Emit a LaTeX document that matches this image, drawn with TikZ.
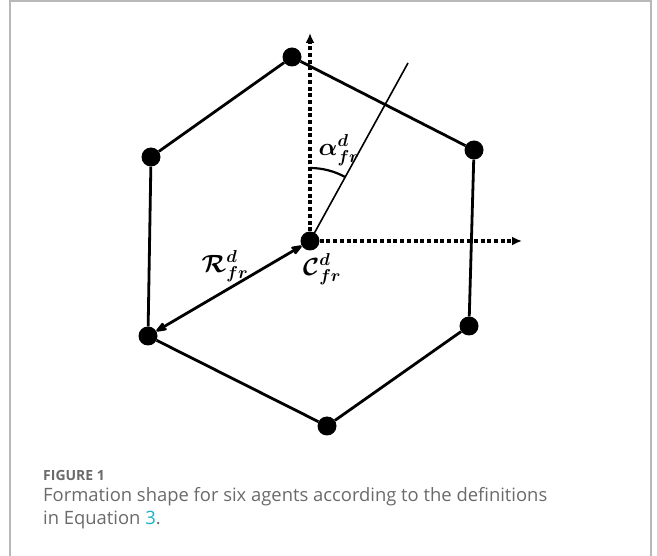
\documentclass[tikz,border=0pt]{standalone}
\usepackage{amsmath,amssymb,bm}
\usepackage{fontspec}
\newfontfamily\capfont{Open Sans}
\usetikzlibrary{arrows.meta}
\definecolor{capgray}{HTML}{6A6A6A}
\definecolor{eqcyan}{HTML}{1BB0C6}

\begin{document}
\begin{tikzpicture}[
	x=1pt, y=-1pt,
	>={Stealth[round]},
	agent/.style={circle, fill=black, inner sep=0pt, minimum size=19pt},
	side/.style={line width=2.8pt, black},
	axis/.style={-{Latex[length=10pt,width=9pt]}, line width=3.2pt, dash pattern=on 4pt off 2.7pt},
	lbl/.style={font=\fontsize{24}{26}\selectfont, inner sep=0pt},
	captxt/.style={anchor=base west, inner sep=0pt, text=capgray},
]
\useasboundingbox (0,0) rectangle (657,556);
\draw[black!28, line width=1.6pt] (10,556) -- (10,0.8) -- (651,0.8) -- (651,556);

% agents on the hexagon
\node[agent] (a1) at (292,57) {};
\node[agent] (a2) at (474,150) {};
\node[agent] (a3) at (469,326) {};
\node[agent] (a4) at (327,426) {};
\node[agent] (a5) at (148,336) {};
\node[agent] (a6) at (151,157) {};
\node[agent] (c) at (310,241) {};
\coordinate (up) at (310,33);
\coordinate (right) at (522,241);
\coordinate (head) at (408,63);

\draw[side] (a1)--(a2)--(a3)--(a4)--(a5)--(a6)--(a1);
\draw[axis] (c)--(up);
\draw[axis] (c)--(right);
\draw[line width=1.6pt] (c.center)--(head);
\draw[line width=2.2pt] (c.center) ++(-90:73) arc[start angle=-90, end angle=-61, radius=73];
\draw[side, <->] (c)--(a5);

\node[lbl] (alpha) at (339,150) {$\bm{\alpha^{d}_{fr}}$};
\node[lbl] (cfr) at (322,269) {$\bm{\mathcal{C}^{d}_{fr}}$};
\node[lbl] (rfr) at (225,266) {$\bm{\mathcal{R}^{d}_{fr}}$};

% caption
\node[captxt, font=\capfont\bfseries\fontsize{14}{16}\selectfont] (fig) at (43,481) {FIGURE 1};
\node[captxt, font=\capfont\fontsize{18.4}{20}\selectfont] (line1) at (43,502) {Formation shape for six agents according to the definitions};
\node[captxt, font=\capfont\fontsize{18.4}{20}\selectfont] (line2) at (43,524) {in Equation \textcolor{eqcyan}{3}.};
\end{tikzpicture}
\end{document}
